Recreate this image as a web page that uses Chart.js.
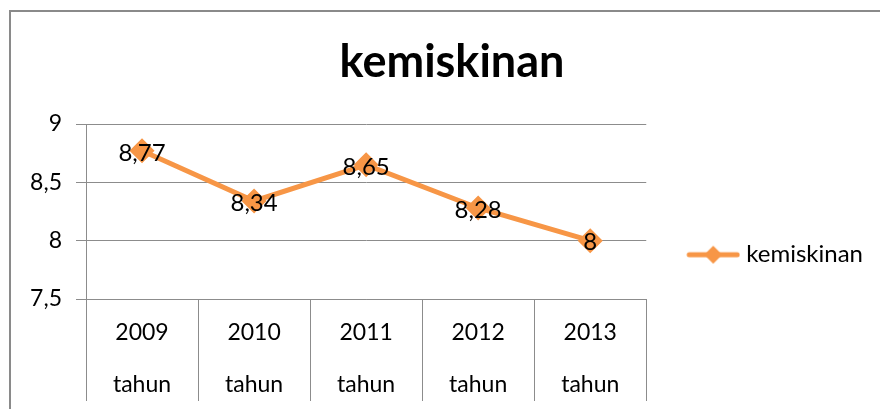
<!DOCTYPE html>
<html>
<head>
<meta charset="utf-8">
<script src="https://cdn.jsdelivr.net/npm/chart.js@4"></script>
<style>
  html, body { margin: 0; padding: 0; background: #fff; overflow: hidden; }
  #frame { position: absolute; left: 9px; top: 10px; width: 886px; height: 412px;
           border: 2px solid #8a8a8a; box-sizing: border-box; background: #fff; }
  #wrap { position: absolute; left: 0; top: 0; width: 882px; height: 408px; }
</style>
</head>
<body>
<div id="frame"><div id="wrap"><canvas id="chart"></canvas></div></div>
<script>
const chartTitle = 'kemiskinan';
const years = ['2009', '2010', '2011', '2012', '2013'];
const unitLabel = 'tahun';
const seriesName = 'kemiskinan';
const values = [8.77, 8.34, 8.65, 8.28, 8];
const yTicks = [7.5, 8, 8.5, 9];

const orange = '#F79646';
const gridGray = '#8c8c8c';
const fmt = v => String(v).replace('.', ',');

Chart.defaults.font.family = 'Lato, "Open Sans", sans-serif';
Chart.defaults.color = '#000';

// legend marker: line with diamond, sits on the right part of the image
const marker = document.createElement('canvas');
marker.width = 90; marker.height = 22;
(() => {
  const c = marker.getContext('2d');
  c.strokeStyle = orange; c.lineWidth = 5; c.lineCap = 'round';
  c.beginPath(); c.moveTo(39, 11); c.lineTo(87, 11); c.stroke();
  c.fillStyle = orange;
  c.beginPath(); c.moveTo(63, 2); c.lineTo(72, 11); c.lineTo(63, 20); c.lineTo(54, 11); c.closePath(); c.fill();
})();

// title centred on the whole chart box, not on the layout area
const centredTitle = {
  id: 'centredTitle',
  afterDraw(chart) {
    const ctx = chart.ctx;
    ctx.save();
    ctx.font = 'bold 45px Lato, sans-serif';
    ctx.fillStyle = '#000';
    ctx.textAlign = 'center';
    ctx.textBaseline = 'middle';
    ctx.fillText(chartTitle, chart.width / 2, 50);
    ctx.restore();
  }
};

const valueLabels = {
  id: 'valueLabels',
  afterDatasetsDraw(chart) {
    const ctx = chart.ctx;
    const meta = chart.getDatasetMeta(0);
    ctx.save();
    ctx.font = '24px Lato, sans-serif';
    ctx.fillStyle = '#000';
    ctx.textAlign = 'center';
    ctx.textBaseline = 'middle';
    meta.data.forEach((pt, i) => {
      ctx.fillText(fmt(chart.data.datasets[0].data[i]), pt.x, pt.y + 2);
    });
    ctx.restore();
  }
};

new Chart(document.getElementById('chart'), {
  type: 'line',
  data: {
    labels: years.map(y => [y, unitLabel]),
    datasets: [{
      label: seriesName,
      data: values,
      borderColor: orange,
      backgroundColor: orange,
      borderWidth: 5,
      pointStyle: 'rectRot',
      pointRadius: 9,
      pointHoverRadius: 9,
      tension: 0
    }]
  },
  options: {
    responsive: true,
    maintainAspectRatio: false,
    animation: false,
    layout: { padding: { left: -30, right: 25, top: 112, bottom: 0 } },
    plugins: {
      title: { display: false },
      legend: {
        position: 'right',
        fullSize: false,
        title: { display: true, text: '', padding: { top: 0, bottom: 72 } },
        labels: {
          usePointStyle: true,
          pointStyle: marker,
          pointStyleWidth: 78,
          font: { size: 24 },
          color: '#000',
          padding: 10
        }
      },
      tooltip: { enabled: false }
    },
    scales: {
      x: {
        offset: true,
        grid: { offset: true, drawOnChartArea: false, drawTicks: true, tickLength: 102, color: gridGray },
        border: { color: gridGray },
        ticks: { padding: -94, font: { size: 23, lineHeight: 2.26 }, color: '#000', maxRotation: 0 },
        afterFit: s => { s.height = 121; }
      },
      y: {
        min: 7.5, max: 9,
        afterBuildTicks: s => { s.ticks = yTicks.map(v => ({ value: v })); },
        grid: { color: gridGray, tickLength: 10 },
        border: { color: gridGray },
        ticks: { padding: 14, font: { size: 23 }, color: '#000', callback: v => fmt(v) },
        afterFit: s => { s.width = 105; }
      }
    }
  },
  plugins: [valueLabels, centredTitle]
});
</script>
</body>
</html>
